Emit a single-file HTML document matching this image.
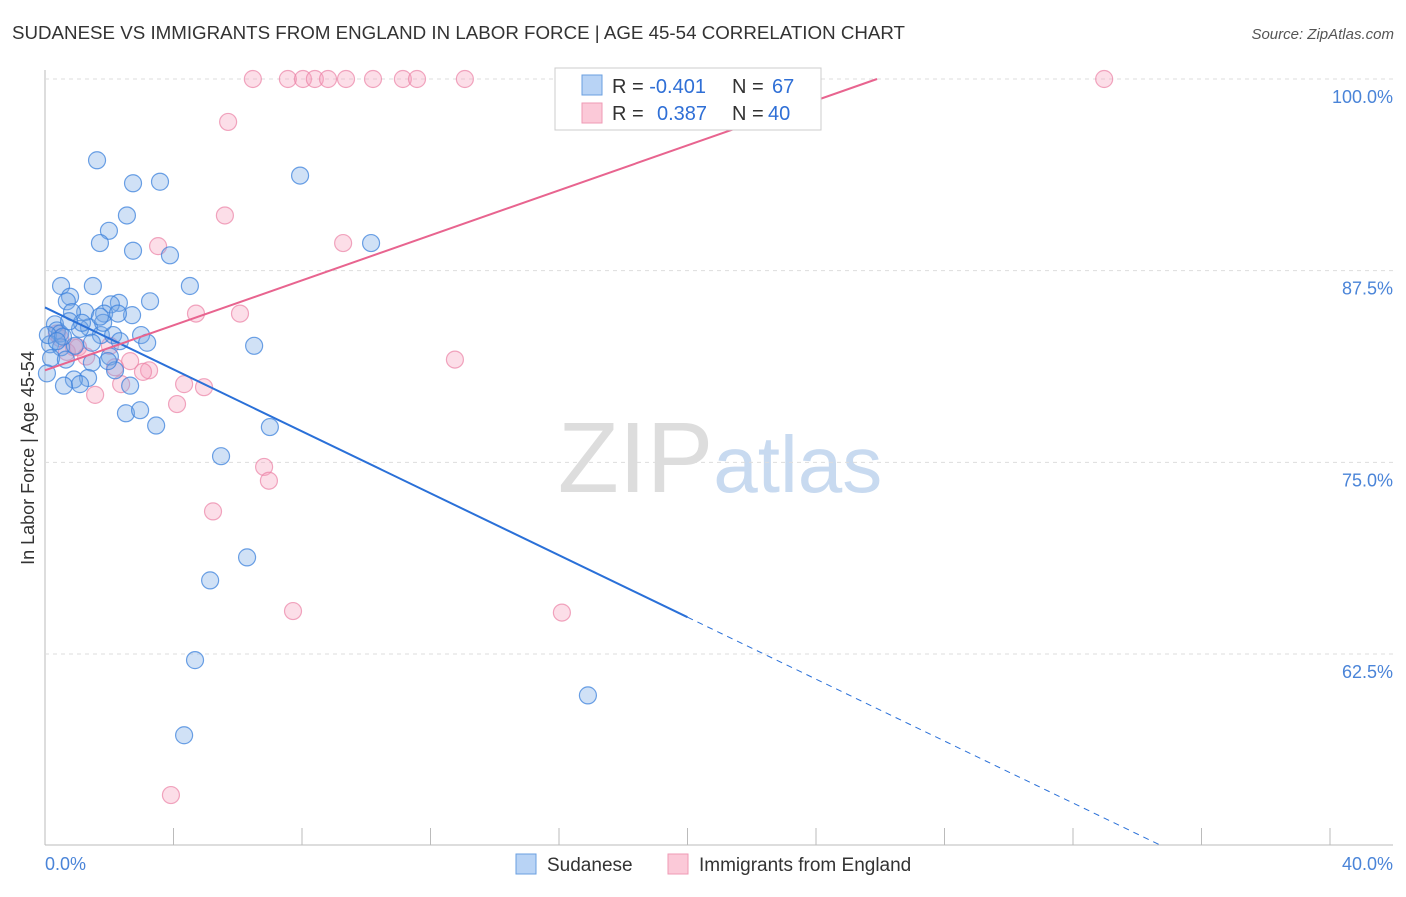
<!DOCTYPE html>
<html><head><meta charset="utf-8">
<style>
body{margin:0;background:#fff;font-family:"Liberation Sans",sans-serif;}
svg text{font-family:"Liberation Sans",sans-serif;}
</style></head>
<body>
<svg id="chart" width="1406" height="892">
<text x="12" y="39" font-size="18" fill="#333" textLength="893" lengthAdjust="spacingAndGlyphs">SUDANESE VS IMMIGRANTS FROM ENGLAND IN LABOR FORCE | AGE 45-54 CORRELATION CHART</text>
<text x="1394" y="39" font-size="15" fill="#555" font-style="italic" text-anchor="end">Source: ZipAtlas.com</text>
<text x="34" y="458" font-size="18" fill="#333" text-anchor="middle" transform="rotate(-90 34 458)">In Labor Force | Age 45-54</text>
<text x="720" y="492" font-size="100" fill="#ddd" text-anchor="middle" font-family="Liberation Serif">ZIP<tspan fill="#c8daf0" font-family="Liberation Sans" font-size="80">atlas</tspan></text>
<g id="grid"></g><g id="pts"></g><g id="lines"></g>
<g>
<rect x="555" y="68" width="266" height="62" fill="#fff" stroke="#ccc"/>
<rect x="582" y="75" width="20" height="20" fill="#b8d3f5" stroke="#6a9fe0"/>
<rect x="582" y="103" width="20" height="20" fill="#fbc9d8" stroke="#ef9ab5"/>
<text x="612" y="93" font-size="20" fill="#333">R = <tspan fill="#2f6fd6">-0.401</tspan><tspan x="732">N = </tspan><tspan fill="#2f6fd6" x="772">67</tspan></text>
<text x="612" y="120" font-size="20" fill="#333">R = <tspan fill="#2f6fd6" x="657">0.387</tspan><tspan x="732">N = </tspan><tspan fill="#2f6fd6" x="768">40</tspan></text>
</g>
<g>
<rect x="516" y="854" width="20" height="20" fill="#b8d3f5" stroke="#6a9fe0"/>
<text x="547" y="871" font-size="19" fill="#333">Sudanese</text>
<rect x="668" y="854" width="20" height="20" fill="#fbc9d8" stroke="#ef9ab5"/>
<text x="699" y="871" font-size="19" fill="#333">Immigrants from England</text>
</g>
<text x="45" y="870" font-size="18" fill="#4a84d8">0.0%</text>
<text x="1393" y="870" font-size="18" fill="#4a84d8" text-anchor="end">40.0%</text>
</svg>
<script>
const yTicks=[100,87.5,75,62.5];
const yTickLabels=["100.0%","87.5%","75.0%","62.5%"];
const xTicks=[0,4,8,12,16,20,24,28,32,36,40];
const blueX=[1.62,2.74,3.58,2.55,1.99,1.71,2.74,3.89,7.94,10.15,0.50,1.49,4.51,0.78,0.68,3.27,2.30,2.05,1.25,0.84,1.84,2.71,1.37,0.31,0.37,1.09,0.47,1.74,2.12,2.99,1.46,3.18,6.51,0.16,0.50,2.02,1.46,0.19,0.06,2.18,1.34,0.90,1.09,0.59,2.65,2.52,2.96,3.46,7.00,5.48,6.29,5.14,4.67,4.33,16.90,0.09,0.93,1.81,2.33,0.65,2.27,0.56,0.37,1.15,1.96,0.75,1.71];
const blueY=[94.7,93.2,93.3,91.1,90.1,89.3,88.8,88.5,93.7,89.3,86.5,86.5,86.5,85.8,85.5,85.5,85.4,85.3,84.8,84.8,84.7,84.6,83.8,84.0,83.6,83.7,83.4,83.3,83.3,83.3,82.8,82.8,82.6,82.7,82.5,81.9,81.5,81.8,80.8,81.0,80.5,80.4,80.1,80.0,80.0,78.2,78.4,77.4,77.3,75.4,68.8,67.3,62.1,57.2,59.8,83.3,82.6,84.1,82.9,81.7,84.7,83.2,82.9,84.1,81.6,84.2,84.5];
const pinkX=[6.47,7.56,8.03,8.40,8.81,9.37,10.21,11.14,11.58,13.07,32.97,5.70,5.60,3.52,9.28,4.70,6.07,12.76,0.37,0.47,0.90,0.68,1.03,1.28,2.65,2.18,3.24,3.05,2.37,4.33,4.95,1.56,4.11,6.82,6.97,5.23,7.72,16.09,3.92,2.02];
const pinkY=[100,100,100,100,100,100,100,100,100,100,100,97.2,91.1,89.1,89.3,84.7,84.7,81.7,83.4,83.1,82.5,82.2,82.5,81.9,81.6,81.2,81.0,80.9,80.1,80.1,79.9,79.4,78.8,74.7,73.8,71.8,65.3,65.2,53.3,82.6];
const blueFit=[0,85.1,20,64.9];
const pinkFit=[0,81.0,25.9,100];
const NS="http://www.w3.org/2000/svg";
const X=v=>45+v*32.125, Y=v=>79+(100-v)*15.333;
function mk(t,a,p){const e=document.createElementNS(NS,t);for(const k in a)e.setAttribute(k,a[k]);p.appendChild(e);return e;}
const grid=document.getElementById('grid');
mk('line',{x1:45,y1:70,x2:45,y2:845,stroke:'#bbb'},grid);
mk('line',{x1:45,y1:845,x2:1393,y2:845,stroke:'#bbb'},grid);
yTicks.forEach((t,i)=>{
 const l=mk('line',{x1:45,y1:Y(t),x2:1393,y2:Y(t),stroke:'#ddd','stroke-dasharray':'4,4'},grid);
 
 
 const tx=mk('text',{x:1393,y:Y(t)+24,'font-size':18,fill:'#4a84d8','text-anchor':'end'},grid);
 tx.textContent=yTickLabels[i];
 
 
});
xTicks.forEach(t=>{
 const l=mk('line',{x1:X(t),y1:828,x2:X(t),y2:845,stroke:'#bbb'},grid);
 
 
});
const pts=document.getElementById('pts');
pinkX.forEach((v,i)=>{
 const c=mk('circle',{cx:X(v),cy:Y(pinkY[i]),r:8.5,fill:'rgba(245,160,190,0.35)',stroke:'rgba(235,130,165,0.7)','stroke-width':1.2},pts);
 
 
});
blueX.forEach((v,i)=>{
 const c=mk('circle',{cx:X(v),cy:Y(blueY[i]),r:8.5,fill:'rgba(120,170,230,0.35)',stroke:'rgba(60,130,220,0.75)','stroke-width':1.2},pts);
 
 
});
const lines=document.getElementById('lines');
const bs=(blueFit[3]-blueFit[1])/(blueFit[2]-blueFit[0]);
const bl=mk('line',{x1:X(blueFit[0]),y1:Y(blueFit[1]),x2:X(blueFit[2]),y2:Y(blueFit[3]),stroke:'#2a70d8','stroke-width':2},lines);


const bottomV=100-(845-79)/15.333;
const endX=(bottomV-blueFit[1])/bs;
const bd=mk('line',{x1:X(blueFit[2]),y1:Y(blueFit[3]),x2:X(endX),y2:Y(blueFit[1]+bs*endX),stroke:'#2a70d8','stroke-width':1,'stroke-dasharray':'6,5'},lines);


const pl=mk('line',{x1:X(pinkFit[0]),y1:Y(pinkFit[1]),x2:X(pinkFit[2]),y2:Y(pinkFit[3]),stroke:'#e8648f','stroke-width':2},lines);


</script>
</body></html>
